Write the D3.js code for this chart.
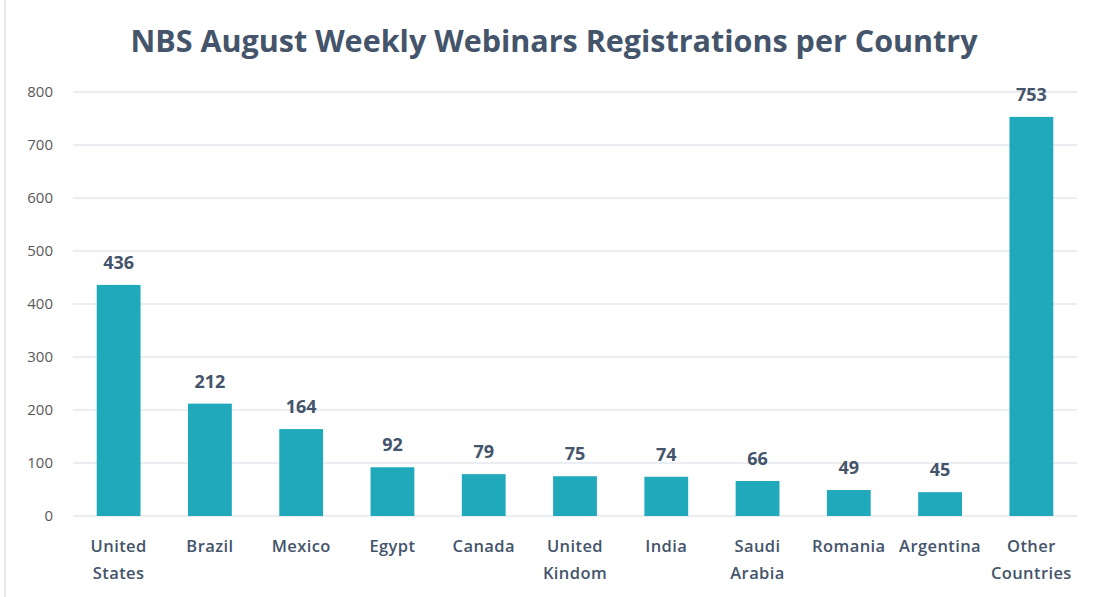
<!DOCTYPE html>
<html>
<head>
<meta charset="utf-8">
<script src="https://cdn.jsdelivr.net/npm/d3@7"></script>
<style>
  body { margin: 0; background: #fff; }
  svg { display: block; }
</style>
</head>
<body>
<svg id="chart" width="1098" height="597"></svg>
<script>
let countries = ["United States", "Brazil", "Mexico", "Egypt", "Canada", "United Kindom", "India", "Saudi Arabia", "Romania", "Argentina", "Other Countries"];
let registrations = [436, 212, 164, 92, 79, 75, 74, 66, 49, 45, 753];
let yTicks = [0, 100, 200, 300, 400, 500, 600, 700, 800];

let svg = d3.select("#chart");
let margin = { left: 73, right: 21, top: 92, bottom: 81 };
let width = 1098, height = 597;
let font = "'Open Sans', Lato, sans-serif";

// faint chart border on the left
svg.append("line")
    .attr("x1", 5).attr("x2", 5).attr("y1", 0).attr("y2", 597)
    .attr("stroke", "#e6e9ee").attr("stroke-width", 2);

svg.append("text")
    .attr("x", 554)
    .attr("y", 52)
    .attr("text-anchor", "middle")
    .style("font-family", font)
    .style("font-weight", "bold")
    .style("font-size", "30.5px")
    .style("fill", "#44546A")
    .text("NBS August Weekly Webinars Registrations per Country");

let x = d3.scaleBand()
    .domain(countries)
    .range([margin.left, width - margin.right])
    .paddingInner(0.52)
    .paddingOuter(0.26);

let y = d3.scaleLinear()
    .domain([0, 800])
    .range([height - margin.bottom, margin.top]);

// gridlines
svg.append("g")
    .selectAll("line")
    .data(yTicks)
    .enter()
    .append("line")
    .attr("x1", margin.left)
    .attr("x2", width - margin.right)
    .attr("y1", d => y(d))
    .attr("y2", d => y(d))
    .attr("stroke", "#e3e7ed")
    .attr("stroke-width", 1.5);

let yAxis = svg.append("g")
    .attr("transform", "translate(" + (margin.left - 20) + ",0)")
    .call(d3.axisLeft(y).tickValues(yTicks).tickSize(0).tickPadding(0));
yAxis.select(".domain").remove();
yAxis.selectAll("text")
    .style("font-family", font)
    .style("font-size", "15px")
    .style("fill", "#595959");

svg.append("g")
    .selectAll("rect")
    .data(countries)
    .enter()
    .append("rect")
    .attr("x", d => x(d))
    .attr("width", x.bandwidth())
    .attr("y", (d, i) => y(registrations[i]))
    .attr("height", (d, i) => y(0) - y(registrations[i]))
    .attr("fill", "#1FA9BB");

svg.append("g")
    .selectAll("text")
    .data(countries)
    .enter()
    .append("text")
    .attr("x", d => x(d) + x.bandwidth() / 2)
    .attr("y", (d, i) => y(registrations[i]) - 16)
    .attr("text-anchor", "middle")
    .style("font-family", font)
    .style("font-weight", "bold")
    .style("font-size", "18px")
    .style("fill", "#44546A")
    .text((d, i) => registrations[i]);

// category labels, multi-word names wrap onto two lines
let labels = svg.append("g")
    .selectAll("text")
    .data(countries)
    .enter()
    .append("text")
    .attr("x", d => x(d) + x.bandwidth() / 2)
    .attr("y", 552)
    .attr("text-anchor", "middle")
    .style("font-family", font)
    .style("font-weight", 600)
    .style("font-size", "16.5px")
    .style("letter-spacing", "0.4px")
    .style("fill", "#44546A");

labels.each(function(d) {
    let words = d.split(" ");
    d3.select(this).selectAll("tspan")
        .data(words)
        .enter()
        .append("tspan")
        .attr("x", x(d) + x.bandwidth() / 2)
        .attr("dy", (w, i) => i === 0 ? 0 : 27)
        .text(w => w);
});
</script>
</body>
</html>
